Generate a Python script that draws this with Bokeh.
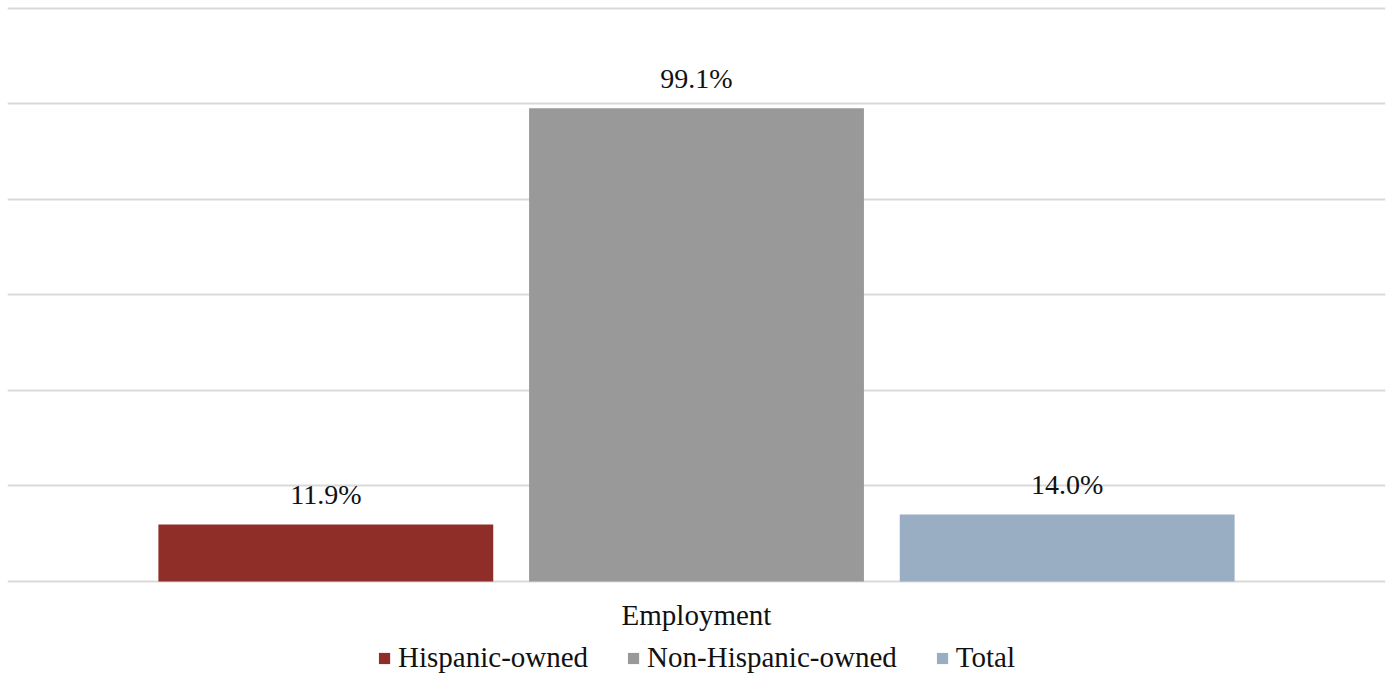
from bokeh.plotting import figure
from bokeh.models import ColumnDataSource, FactorRange, Range1d, FixedTicker, Legend, LegendItem
from bokeh.transform import dodge
from bokeh.core.properties import value
from bokeh.embed import file_html
from bokeh.resources import INLINE

# Share of employment by ownership group (%)
categories = ["Employment"]
series = ["Hispanic-owned", "Non-Hispanic-owned", "Total"]
shares = [11.9, 99.1, 14.0]
grid_ticks = [0, 20, 40, 60, 80, 100, 120]

colors = ["#8F2D29", "#989998", "#99AEC3"]
FONT = "Liberation Serif"
TEXT_COLOR = "#111111"

bar_width = 0.243
gap = 0.026
step = bar_width + gap

# The frame runs down to the bottom edge; the space under zero holds the
# category label and the legend.
p = figure(
    x_range=FactorRange(*categories, range_padding=0),
    y_range=Range1d(-19.5, 120.4),
    width=1389, height=674,
    x_axis_location=None, y_axis_location=None,
    min_border_left=7, min_border_right=4, min_border_top=6, min_border_bottom=0,
    output_backend="svg", toolbar_location=None,
)
p.outline_line_color = None
p.background_fill_color = "white"
p.border_fill_color = "white"

# Gridlines
p.ygrid.ticker = FixedTicker(ticks=grid_ticks)
p.ygrid.grid_line_color = "#d9d9d9"
p.ygrid.grid_line_width = 2
p.xgrid.grid_line_color = None

items = []
for i, (name, val, col) in enumerate(zip(series, shares, colors)):
    off = (i - 1) * step
    src = ColumnDataSource(dict(cat=categories, val=[val], label=[f"{val:.1f}%"]))
    r = p.vbar(x=dodge("cat", off, range=p.x_range), top="val", bottom=0, width=bar_width,
               source=src, fill_color=col, line_color=None)
    p.text(x=dodge("cat", off, range=p.x_range), y="val", text="label", source=src,
           text_align="center", text_baseline="alphabetic", y_offset=-30,
           text_font=value(FONT), text_font_size="28px", text_color=TEXT_COLOR)
    items.append(LegendItem(label=name, renderers=[r]))

# Category label under the baseline
p.text(x=categories, y=[0] * len(categories), text=categories,
       text_align="center", text_baseline="alphabetic", y_offset=34,
       text_font=value(FONT), text_font_size="29px", text_color=TEXT_COLOR)

legend = Legend(items=items, orientation="horizontal", location="bottom_center",
                label_text_font=FONT, label_text_font_size="29px",
                label_text_color=TEXT_COLOR, glyph_width=14, glyph_height=14,
                label_standoff=7, spacing=38, padding=0, margin=0,
                border_line_color=None, background_fill_alpha=0)
p.add_layout(legend, "center")

open("out.html", "w").write(file_html(p, INLINE))
